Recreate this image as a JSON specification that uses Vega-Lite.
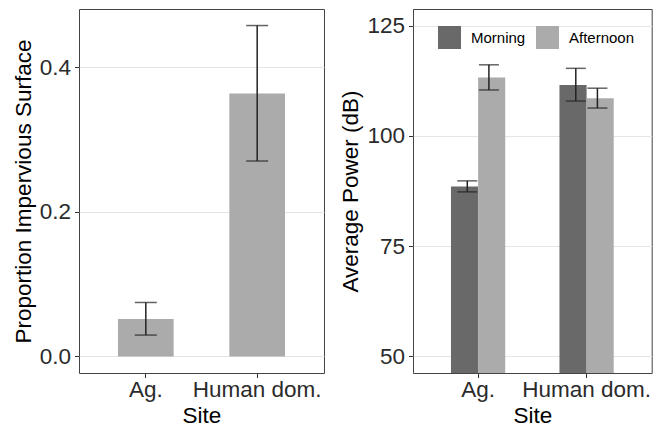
{
  "$schema": "https://vega.github.io/schema/vega-lite/v6.json",
  "padding": {"left": 11, "top": 8, "right": 5, "bottom": 2},
  "background": "white",
  "spacing": 14,
  "config": {
    "font": "Liberation Sans",
    "view": {"stroke": "#444444", "strokeWidth": 1},
    "axis": {
      "labelFont": "Liberation Sans",
      "titleFont": "Liberation Sans",
      "labelFontSize": 22.5,
      "titleFontSize": 22.5,
      "labelColor": "#2b2b2b",
      "titleColor": "#000000",
      "titleFontWeight": "normal",
      "tickColor": "#333333",
      "tickSize": 4.5,
      "labelPadding": 4,
      "domain": false,
      "gridColor": "#e5e5e5",
      "gridWidth": 1.2
    },
    "axisX": {"grid": false, "labelAngle": 0, "labelPadding": 1, "titlePadding": 3},
    "axisY": {"titlePadding": 4}
  },
  "hconcat": [
    {
      "width": 245,
      "height": 364,
      "data": {"values": [
        {"site": "Ag.", "mean": 0.052, "lo": 0.0296, "hi": 0.0747},
        {"site": "Human dom.", "mean": 0.364, "lo": 0.2705, "hi": 0.458}
      ]},
      "encoding": {
        "x": {"field": "site", "type": "nominal", "title": "Site",
          "sort": ["Ag.", "Human dom."],
          "scale": {"paddingInner": 0.5, "paddingOuter": 0.35}}
      },
      "layer": [
        {
          "mark": {"type": "bar", "color": "#ababab"},
          "encoding": {
            "y": {"field": "mean", "type": "quantitative",
              "title": "Proportion Impervious Surface",
              "scale": {"domain": [-0.0229, 0.4809], "nice": false, "zero": false},
              "axis": {"values": [0, 0.2, 0.4], "format": ".1f"}}
          }
        },
        {
          "mark": {"type": "rule", "color": "#222222", "strokeWidth": 1.5},
          "encoding": {
            "y": {"field": "lo", "type": "quantitative"},
            "y2": {"field": "hi"}
          }
        },
        {
          "mark": {"type": "tick", "color": "#222222", "size": 22, "thickness": 1.5, "orient": "horizontal"},
          "encoding": {"y": {"field": "lo", "type": "quantitative"}}
        },
        {
          "mark": {"type": "tick", "color": "#222222", "size": 22, "thickness": 1.5, "orient": "horizontal"},
          "encoding": {"y": {"field": "hi", "type": "quantitative"}}
        }
      ]
    },
    {
      "width": 238.7,
      "height": 364,
      "data": {"values": [
        {"site": "Ag.", "time": "Morning", "mean": 88.5, "lo": 87.3, "hi": 89.8},
        {"site": "Ag.", "time": "Afternoon", "mean": 113.2, "lo": 110.4, "hi": 116.1},
        {"site": "Human dom.", "time": "Morning", "mean": 111.5, "lo": 107.9, "hi": 115.3},
        {"site": "Human dom.", "time": "Afternoon", "mean": 108.5, "lo": 106.3, "hi": 110.8}
      ]},
      "encoding": {
        "x": {"field": "site", "type": "nominal", "title": "Site",
          "sort": ["Ag.", "Human dom."],
          "scale": {"paddingInner": 0.5, "paddingOuter": 0.35}}
      },
      "layer": [
        {
          "mark": {"type": "bar", "clip": true},
          "encoding": {
            "xOffset": {"field": "time", "type": "nominal", "sort": ["Morning", "Afternoon"],
              "scale": {"paddingInner": 0, "paddingOuter": 0}},
            "y": {"field": "mean", "type": "quantitative", "stack": null,
              "title": "Average Power (dB)",
              "scale": {"domain": [46.25, 128.75], "nice": false, "zero": false},
              "axis": {"values": [50, 75, 100, 125]}},
            "color": {"field": "time", "type": "nominal",
              "scale": {"domain": ["Morning", "Afternoon"], "range": ["#696969", "#ababab"]},
              "legend": {
                "orient": "none", "legendX": 359, "legendY": 17,
                "direction": "horizontal", "title": null,
                "symbolType": "square", "symbolSize": 529,
                "symbolStrokeWidth": 0, "symbolOpacity": 1,
                "labelFont": "Liberation Sans", "labelFontSize": 15,
                "labelColor": "#000000", "labelOffset": 10, "columnPadding": 10
              }}
          }
        },
        {
          "layer": [
            {
              "mark": {"type": "rule", "color": "#222222", "strokeWidth": 1.5},
              "encoding": {
                "y": {"field": "lo", "type": "quantitative"},
                "y2": {"field": "hi"}
              }
            },
            {
              "mark": {"type": "tick", "color": "#222222", "size": 20, "thickness": 1.5, "orient": "horizontal"},
              "encoding": {"y": {"field": "lo", "type": "quantitative"}}
            },
            {
              "mark": {"type": "tick", "color": "#222222", "size": 20, "thickness": 1.5, "orient": "horizontal"},
              "encoding": {"y": {"field": "hi", "type": "quantitative"}}
            }
          ],
          "encoding": {
            "xOffset": {"field": "time", "type": "nominal", "sort": ["Morning", "Afternoon"],
              "scale": {"paddingInner": 0, "paddingOuter": 0.255}}
          }
        }
      ],
      "resolve": {"scale": {"xOffset": "independent"}}
    }
  ]
}
